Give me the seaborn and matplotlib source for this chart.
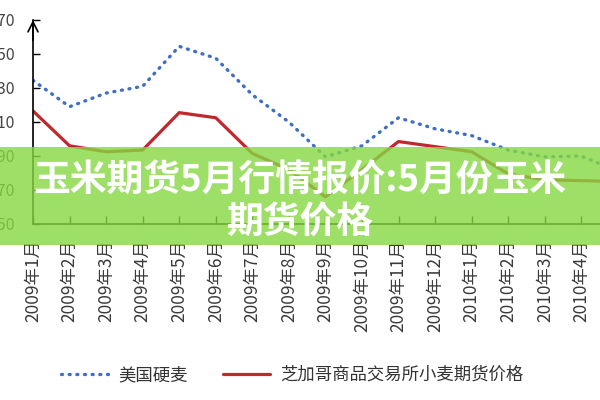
import numpy as np
import matplotlib
matplotlib.use("Agg")
import matplotlib.pyplot as plt
import pandas as pd
import seaborn as sns
from matplotlib.patches import Rectangle

months = ["2009年1月", "2009年2月", "2009年3月", "2009年4月", "2009年5月", "2009年6月",
          "2009年7月", "2009年8月", "2009年9月", "2009年10月", "2009年11月", "2009年12月",
          "2010年1月", "2010年2月", "2010年3月", "2010年4月", "2010年5月"]
hard_wheat = [234.5, 219, 227, 231, 254.5, 247.5, 226, 210, 189.5, 196, 212.5, 206,
              202, 193.5, 189.5, 190, 181]
chicago = [216.5, 196, 192.5, 193.5, 215.5, 212.5, 191.5, 182, 166, 182, 198.5, 195.5,
           192.5, 179.5, 176, 175.5, 175]
y_ticks = [150, 170, 190, 210, 230, 250, 270]
series_names = ["美国硬麦", "芝加哥商品交易所小麦期货价格"]
title = "玉米期货5月行情报价:5月份玉米\n期货价格"

sns.set_style("white")
plt.rcParams["font.family"] = ["Noto Sans CJK SC", "DejaVu Sans"]

df = pd.DataFrame({"idx": np.arange(len(months)), "hard": hard_wheat, "chi": chicago})

fig = plt.figure(figsize=(6, 4), dpi=100)
ax = fig.add_axes([0.055, 0.44, 1.06, 0.51])

sns.lineplot(data=df, x="idx", y="hard", ax=ax, color="#3f6fc4", linewidth=2.4,
             linestyle=(0, (0.3, 2.0)), dash_capstyle="round", label=series_names[0])
sns.lineplot(data=df, x="idx", y="chi", ax=ax, color="#c0282d", linewidth=2.3,
             label=series_names[1])

ax.set_xlim(0, 17.4)
ax.set_ylim(150, 270)
ax.set_xticks(df["idx"])
ax.set_xticklabels(months, rotation=90, fontsize=12.5, color="#3a3a3a")
ax.set_yticks(y_ticks)
ax.set_yticklabels([str(v) for v in y_ticks], fontsize=11.5, color="#444444")
ax.tick_params(axis="x", direction="in", length=6, width=1, color="black", pad=11, bottom=True)
ax.tick_params(axis="y", direction="in", length=5, width=1, color="black", pad=13, left=True)
ax.set_xlabel("")
ax.set_ylabel("")
for s in ["top", "right"]:
    ax.spines[s].set_visible(False)
for s in ["left", "bottom"]:
    ax.spines[s].set_color("black")
    ax.spines[s].set_linewidth(1.2)

# arrow head on the y axis
ax.annotate("", xy=(0, 1.0), xytext=(0, 0.9), xycoords="axes fraction",
            arrowprops=dict(arrowstyle="->", color="black", lw=1.2,
                            mutation_scale=18, shrinkA=0, shrinkB=0))

handles, labels = ax.get_legend_handles_labels()
ax.get_legend().remove()
fig.legend(handles, labels, loc="center", bbox_to_anchor=(0.487, 0.0625), ncol=2,
           frameon=False, fontsize=12.5, handlelength=2.7, handletextpad=0.6,
           columnspacing=2.0, labelcolor="#333333")

# green banner with the title over the chart
fig.add_artist(Rectangle((0, 0.3875), 1, 0.245, transform=fig.transFigure,
                         facecolor="#86d842", alpha=0.8, edgecolor="none", zorder=5))
fig.text(0.5, 0.4975, title, ha="center", va="center", color="white",
         fontsize=26.5, fontweight="bold", linespacing=1.15, zorder=6)

fig.savefig("out.png", dpi=100)
